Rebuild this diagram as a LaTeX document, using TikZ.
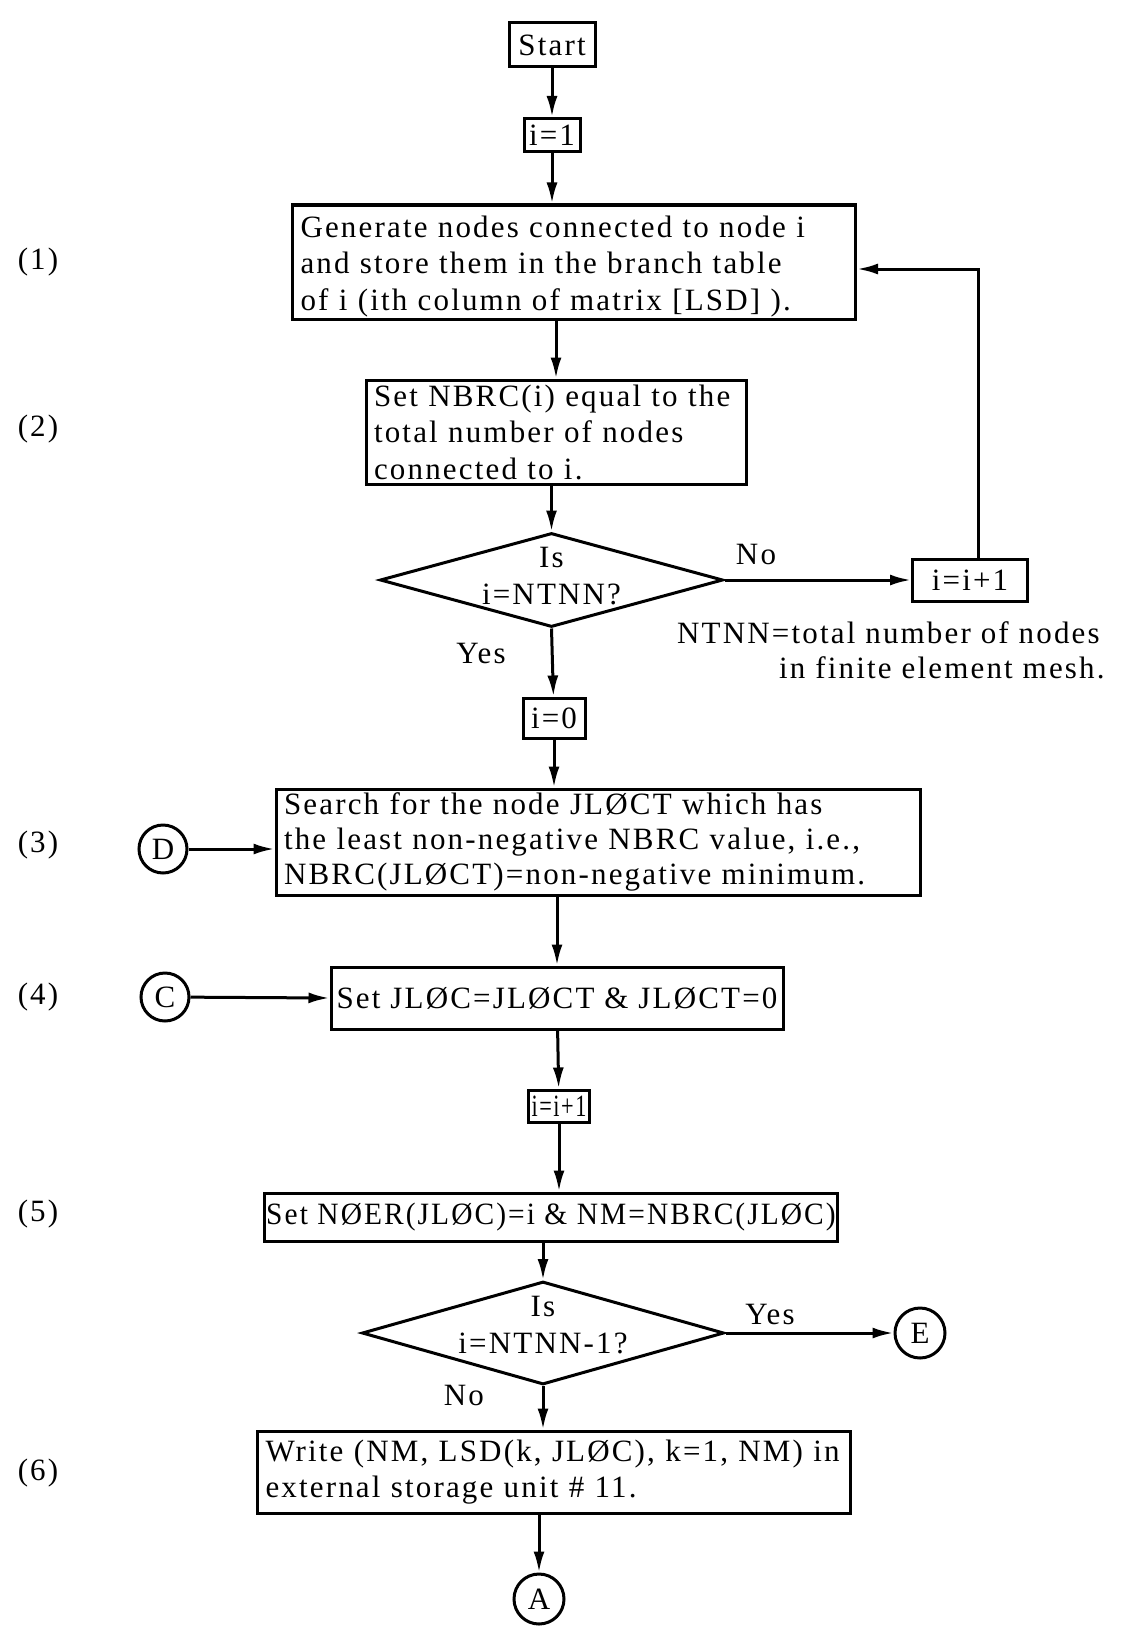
\documentclass[tikz,border=0pt]{standalone}
\usepackage{fontspec}
\setmainfont{Liberation Serif}[LetterSpace=7]
\usetikzlibrary{shapes.geometric,arrows.meta}
\newcommand{\fs}{\fontsize{31}{36.5}\selectfont}
\tikzset{
  lw/.style={line width=3pt},
  box/.style={draw, lw, inner xsep=8pt, inner ysep=2pt, align=left, font=\fs},
  sbox/.style={draw, lw, inner sep=2pt, align=center, font=\fs},
  dec/.style={draw, lw, diamond, inner sep=0pt},
  conn/.style={draw, lw, circle, inner sep=0pt, minimum size=48pt, font=\fs},
  lbl/.style={font=\fs, inner sep=0pt, align=center},
  arr/.style={lw, -{Latex[length=21pt,width=11pt]}},
}
\begin{document}
\begin{tikzpicture}[x=1pt,y=-1pt]
\useasboundingbox (0,0) rectangle (1138,1632);

% nodes
\node[sbox, minimum width=86pt, minimum height=44pt] (start) at (552,45) {Start};
\node[sbox, minimum width=56pt, minimum height=33pt] (i1) at (552,135) {i=1};
\node[box, text width=547pt, minimum height=114pt, inner ysep=1pt] (b1) at (574,262)
  {\rule{0pt}{30.5pt}Generate nodes connected to node i\\and store them in the branch table\\of i (ith column of matrix [LSD] ).};
\node[box, text width=364pt, minimum height=104pt] (b2) at (556,432)
  {Set NBRC(i) equal to the\\total number of nodes\\connected to i.};
\node[dec, minimum width=343pt, minimum height=94pt] (d1) at (551.5,580) {};
\node[lbl] (d1t) at ([yshift=4pt]d1.center) {Is\\i=NTNN?};
\node[sbox, minimum width=115pt, minimum height=42pt] (inc1) at (970,580) {i=i+1};
\node[lbl, anchor=base west] (nt1) at (677,643) {NTNN=total number of nodes};
\node[lbl, anchor=base west] (nt2) at (779,678) {in finite element mesh.};
\node[sbox, minimum width=62pt, minimum height=40pt] (i0) at (554,718) {i=0};
\node[box, text width=628pt, minimum height=106pt, font=\fontsize{31}{35}\selectfont] (b3) at (598,842)
  {Search for the node JLØCT which has\\the least non-negative NBRC value, i.e.,\\NBRC(JLØCT)=non-negative minimum.};
\node[conn] (D) at (163,849) {D};
\node[sbox, minimum width=452pt, minimum height=62pt] (b4) at (557,998)
  {Set JLØC=JLØCT \& JLØCT=0};
\node[conn] (C) at (165,997) {C};
\node[sbox, minimum width=61pt, minimum height=32pt] (inc2) at (559,1106) {\scalebox{0.72}[1]{i=i+1}};
\node[sbox, minimum width=572pt, minimum height=48pt] (b5) at (551,1217)
  {\scalebox{0.95}[1]{Set NØER(JLØC)=i \& NM=NBRC(JLØC)}};
\node[dec, minimum width=362pt, minimum height=103pt] (d2) at (543,1333) {};
\node[lbl] (d2t) at ([yshift=8pt]d2.center) {Is\\i=NTNN-1?};
\node[conn, minimum size=50pt] (E) at (920,1333) {E};
\node[box, text width=577pt, minimum height=82pt] (b6) at (554,1472)
  {Write (NM, LSD(k, JLØC), k=1, NM) in\\external storage unit \# 11.};
\node[conn, minimum size=50pt] (A) at (539,1599) {A};

% step labels
\node[lbl] (s1) at (38,262) {(1)};
\node[lbl] (s2) at (38,429) {(2)};
\node[lbl] (s3) at (38,845) {(3)};
\node[lbl] (s4) at (38,997) {(4)};
\node[lbl] (s5) at (38,1214) {(5)};
\node[lbl] (s6) at (38,1473) {(6)};

% branch labels
\node[lbl] (no1) at (756,554) {No};
\node[lbl] (yes1) at (481,653) {Yes};
\node[lbl] (yes2) at (770,1314) {Yes};
\node[lbl] (no2) at (464,1395) {No};

% connectors
\draw[arr] (start) -- (i1);
\draw[arr] (i1) -- (i1 |- b1.north);
\draw[arr] (b1.south -| b2) -- (b2);
\draw[arr] (b2.south -| d1.north) -- (d1.north);
\draw[arr] (d1.east) -- (inc1.west);
\draw[arr] ([xshift=8pt]inc1.north) |- ([yshift=-7pt]b1.east);
\draw[arr] (d1.south) -- (i0);
\draw[arr] (i0) -- (i0 |- b3.north);
\draw[arr] (D) -- (D -| b3.west);
\draw[arr] (b3.south -| b4) -- (b4);
\draw[arr] (C) -- (b4.west);
\draw[arr] (b4) -- (inc2);
\draw[arr] (inc2) -- (inc2 |- b5.north);
\draw[arr] (b5.south -| d2.north) -- (d2.north);
\draw[arr] (d2.east) -- (E);
\draw[arr] (d2.south) -- (d2.south |- b6.north);
\draw[arr] (b6.south -| A) -- (A);
\end{tikzpicture}
\end{document}
